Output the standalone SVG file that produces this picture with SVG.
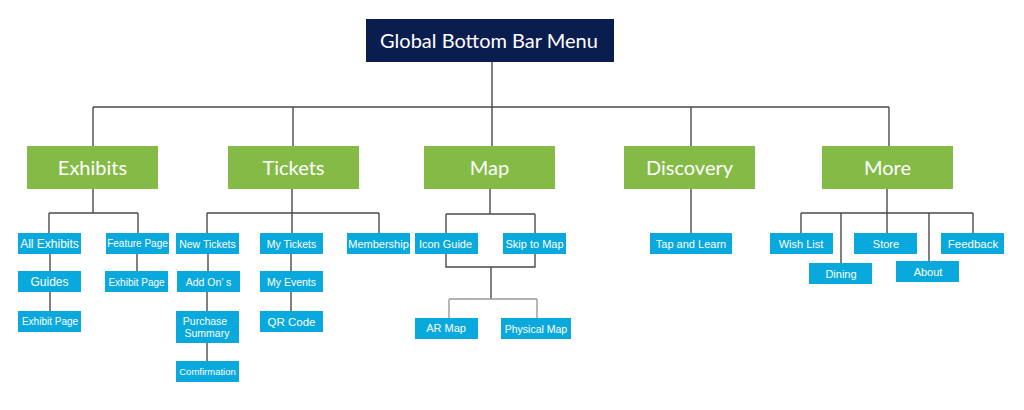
<svg xmlns="http://www.w3.org/2000/svg" width="1024" height="410" viewBox="0 0 1024 410">
<style>
.root{fill:#0a1d4f}
.l1{fill:#84bb46}
.l2{fill:#0aa9dd}
.t0{font-family:Lato,"Liberation Sans",sans-serif;font-size:20px;fill:#fff;text-anchor:middle}
.t1{font-family:Lato,"Liberation Sans",sans-serif;font-size:20px;fill:#fff;text-anchor:middle}
.t2{font-family:"Liberation Sans",Arial,sans-serif;font-size:10.5px;fill:#fff;text-anchor:middle}
.c{fill:none;stroke:#4a4a4a;stroke-width:1.4}
.c2{fill:none;stroke:#9a9a9a;stroke-width:1.4}
</style>
<rect width="1024" height="410" fill="#fff"/>
<g id="connectors">
<path class="c" d="M492 62V107M93 107H889M93 107V146M293 107V146M492 107V146M691 107V146M889 107V146"/>
<path class="c" d="M93 189V213M49 213H138M49 213V233M138 213V233M50 254V271M50 292V311M137 254V271"/>
<path class="c" d="M292 189V233M207 213H379M207 213V233M379 213V233M208 254V271M207 292V311M207 343V361M291 254V271M291 292V311"/>
<path class="c" d="M490 189V214M446 214H535M446 214V233M535 214V233M446 254V267H535V254M491 267V299"/>
<path class="c2" d="M449 299H537M449 299V318M537 299V318"/>
<path class="c" d="M691 189V233"/>
<path class="c" d="M887 189V213M801 213H973M801 213V233M841 213V263M887 213V233M929 213V261M973 213V233"/>
</g>
<g id="root"><rect class="root" x="366" y="19" width="248" height="43"/><text class="t0" x="489" y="48">Global Bottom Bar Menu</text></g>
<g id="exhibits"><rect class="l1" x="27" y="146" width="131" height="43"/><text class="t1" x="92.5" y="174.5">Exhibits</text></g>
<g id="tickets"><rect class="l1" x="228" y="146" width="131" height="43"/><text class="t1" x="293.5" y="174.5">Tickets</text></g>
<g id="map"><rect class="l1" x="424" y="146" width="131" height="43"/><text class="t1" x="489.5" y="174.5">Map</text></g>
<g id="discovery"><rect class="l1" x="624" y="146" width="131" height="43"/><text class="t1" x="689.5" y="174.5">Discovery</text></g>
<g id="more"><rect class="l1" x="822" y="146" width="131" height="43"/><text class="t1" x="887.5" y="174.5">More</text></g>
<g id="all-exhibits"><rect class="l2" x="18" y="233" width="63" height="21"/><text class="t2" x="49.5" y="248" style="font-size:12px">All Exhibits</text></g>
<g id="guides"><rect class="l2" x="18" y="271" width="63" height="21"/><text class="t2" x="49.5" y="286" style="font-size:12px">Guides</text></g>
<g id="exhibit-page-1"><rect class="l2" x="18" y="311" width="63" height="21"/><text class="t2" x="50" y="325" style="font-size:10px">Exhibit Page</text></g>
<g id="feature-page"><rect class="l2" x="106" y="233" width="63" height="21"/><text class="t2" x="137.5" y="247" style="font-size:10px">Feature Page</text></g>
<g id="exhibit-page-2"><rect class="l2" x="105" y="271" width="63" height="21"/><text class="t2" x="136.5" y="286" style="font-size:10px">Exhibit Page</text></g>
<g id="new-tickets"><rect class="l2" x="176" y="233" width="63" height="21"/><text class="t2" x="207.5" y="247.5">New Tickets</text></g>
<g id="add-ons"><rect class="l2" x="177" y="271" width="63" height="21"/><text class="t2" x="208.5" y="285.5">Add On’ s</text></g>
<g id="purchase-summary"><rect class="l2" x="176" y="311" width="63" height="32"/><text class="t2" x="205" y="325">Purchase</text><text class="t2" x="207" y="337">Summary</text></g>
<g id="confirmation"><rect class="l2" x="176" y="361" width="63" height="21"/><text class="t2" x="207.5" y="375" style="font-size:9.5px">Comfirmation</text></g>
<g id="my-tickets"><rect class="l2" x="260" y="233" width="63" height="21"/><text class="t2" x="291.5" y="247.5">My Tickets</text></g>
<g id="my-events"><rect class="l2" x="260" y="271" width="63" height="21"/><text class="t2" x="291.5" y="285.5">My Events</text></g>
<g id="qr-code"><rect class="l2" x="260" y="311" width="63" height="21"/><text class="t2" x="291.5" y="326" style="font-size:11.5px">QR Code</text></g>
<g id="membership"><rect class="l2" x="347" y="233" width="63" height="21"/><text class="t2" x="378.5" y="247.5" style="font-size:11px">Membership</text></g>
<g id="icon-guide"><rect class="l2" x="415" y="233" width="63" height="21"/><text class="t2" x="445.5" y="247.5" style="font-size:11px">Icon Guide</text></g>
<g id="skip-to-map"><rect class="l2" x="503" y="233" width="63" height="21"/><text class="t2" x="534.5" y="247.5" style="font-size:11px">Skip to Map</text></g>
<g id="ar-map"><rect class="l2" x="415" y="318" width="63" height="21"/><text class="t2" x="446" y="331.5" style="font-size:11px">AR Map</text></g>
<g id="physical-map"><rect class="l2" x="501" y="318" width="70" height="21"/><text class="t2" x="536" y="333" style="font-size:10.5px">Physical Map</text></g>
<g id="tap-and-learn"><rect class="l2" x="650" y="233" width="82" height="21"/><text class="t2" x="691" y="247.5" style="font-size:11px">Tap and Learn</text></g>
<g id="wish-list"><rect class="l2" x="770" y="233" width="63" height="21"/><text class="t2" x="801" y="247.5" style="font-size:11px">Wish List</text></g>
<g id="dining"><rect class="l2" x="809" y="263" width="63" height="21"/><text class="t2" x="841" y="277.5" style="font-size:11px">Dining</text></g>
<g id="store"><rect class="l2" x="854" y="233" width="63" height="21"/><text class="t2" x="886" y="248" style="font-size:11px">Store</text></g>
<g id="about"><rect class="l2" x="896" y="261" width="63" height="21"/><text class="t2" x="928" y="275.5" style="font-size:11px">About</text></g>
<g id="feedback"><rect class="l2" x="941" y="233" width="63" height="21"/><text class="t2" x="973" y="248" style="font-size:11.5px">Feedback</text></g>
</svg>
